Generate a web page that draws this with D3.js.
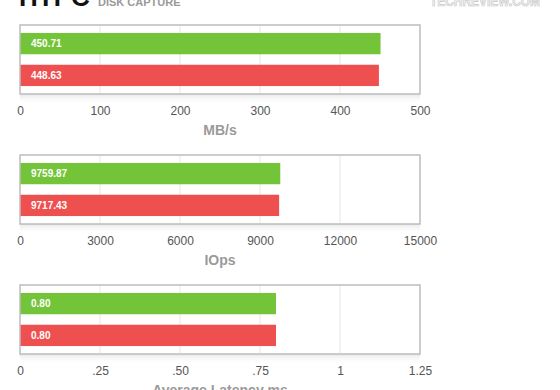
<!DOCTYPE html>
<html><head><meta charset="utf-8">
<script src="https://cdn.jsdelivr.net/npm/d3@7"></script>
<style>html,body{margin:0;padding:0;background:#fff;}svg{display:block;}</style>
</head><body>
<svg id="c" width="560" height="390"></svg>
<script>
const metrics = ["MB/s", "IOps", "Average Latency ms"];
const greenValues = [450.71, 9759.87, 0.80];
const redValues = [448.63, 9717.43, 0.80];
const greenLabels = ["450.71", "9759.87", "0.80"];
const redLabels = ["448.63", "9717.43", "0.80"];
const axisMax = [500, 15000, 1.25];
const tickValues = [
  [0, 100, 200, 300, 400, 500],
  [0, 3000, 6000, 9000, 12000, 15000],
  [0, 0.25, 0.5, 0.75, 1, 1.25]
];
const tickLabels = [
  ["0", "100", "200", "300", "400", "500"],
  ["0", "3000", "6000", "9000", "12000", "15000"],
  ["0", ".25", ".50", ".75", "1", "1.25"]
];
const title = "HTPC";
const subtitle = "DISK CAPTURE";
const watermark = "TECHREVIEW.COM";

const svg = d3.select("#c");
const font = "'Liberation Sans', Arial, Helvetica, sans-serif";
const GREEN = "#74c43a", RED = "#ee5050";

const defs = svg.append("defs");
const grad = defs.append("linearGradient").attr("id", "sh").attr("x1", 0).attr("x2", 0).attr("y1", 0).attr("y2", 1);
grad.append("stop").attr("offset", "0%").attr("stop-color", "#e4e4e4").attr("stop-opacity", 0.9);
grad.append("stop").attr("offset", "100%").attr("stop-color", "#ffffff").attr("stop-opacity", 0);

// header
svg.append("text").attr("x", 19).attr("y", 6).attr("font-family", font).attr("font-weight", "bold")
  .attr("font-size", 26).attr("fill", "#111").text(title);
svg.append("text").attr("x", 98).attr("y", 6).attr("font-family", font).attr("font-weight", "bold")
  .attr("font-size", 11).attr("fill", "#9a9a9a").text(subtitle);
svg.append("text").attr("x", 430).attr("y", 6).attr("font-family", font).attr("font-weight", "bold")
  .attr("font-size", 14).attr("fill", "#f2f2f2").attr("stroke", "#c8c8c8").attr("stroke-width", 0.7)
  .attr("textLength", 110).attr("lengthAdjust", "spacingAndGlyphs").text(watermark);

const x0 = 20, x1 = 420, boxH = 69;
const metricIdx = d3.range(metrics.length);
const panelY = d3.scaleLinear().domain([0, 1]).range([25, 155]);

metricIdx.forEach(i => {
  const top = panelY(i);
  const bottom = top + boxH;
  const x = d3.scaleLinear().domain([0, axisMax[i]]).range([x0, x1]);
  const y = d3.scaleBand().domain(["g", "r"]).range([top, bottom]).paddingInner(0.33).paddingOuter(0.25);
  const g = svg.append("g");

  // shadow under box
  g.append("rect").attr("x", x0).attr("y", bottom).attr("width", x1 - x0).attr("height", 10).attr("fill", "url(#sh)");

  // box bg
  g.append("rect").attr("x", x0).attr("y", top).attr("width", x1 - x0).attr("height", boxH).attr("fill", "#fff");

  // grid
  g.selectAll("line.grid").data(tickValues[i].slice(1, -1)).enter().append("line")
    .attr("x1", d => x(d)).attr("x2", d => x(d)).attr("y1", top).attr("y2", bottom)
    .attr("stroke", "#e6e6e6").attr("stroke-width", 1);

  const bars = [
    {k: "g", v: greenValues[i], l: greenLabels[i], c: GREEN},
    {k: "r", v: redValues[i], l: redLabels[i], c: RED}
  ];
  g.selectAll("rect.bar").data(bars).enter().append("rect")
    .attr("x", x(0)).attr("y", d => y(d.k)).attr("width", d => x(d.v) - x(0)).attr("height", y.bandwidth())
    .attr("fill", d => d.c);
  g.selectAll("text.lbl").data(bars).enter().append("text")
    .attr("x", x(0) + 11).attr("y", d => y(d.k) + y.bandwidth() / 2).attr("dy", "0.36em")
    .attr("font-family", font).attr("font-weight", "bold").attr("font-size", 10).attr("fill", "#fff")
    .text(d => d.l);

  // box border
  g.append("rect").attr("x", x0).attr("y", top).attr("width", x1 - x0).attr("height", boxH)
    .attr("fill", "none").attr("stroke", "#bdbdbd").attr("stroke-width", 1.5);

  // axis
  const axis = d3.axisBottom(x).tickValues(tickValues[i]).tickFormat((d, j) => tickLabels[i][j])
    .tickSize(0).tickPadding(12);
  const ag = g.append("g").attr("transform", `translate(0,${bottom})`).call(axis);
  ag.select(".domain").remove();
  ag.selectAll("text").attr("font-family", font).attr("font-size", 12).attr("fill", "#555");

  g.append("text").attr("x", (x0 + x1) / 2).attr("y", bottom + 41).attr("text-anchor", "middle")
    .attr("font-family", font).attr("font-weight", "bold").attr("font-size", 14).attr("fill", "#9a9a9a")
    .text(metrics[i]);
});
</script>
</body></html>
